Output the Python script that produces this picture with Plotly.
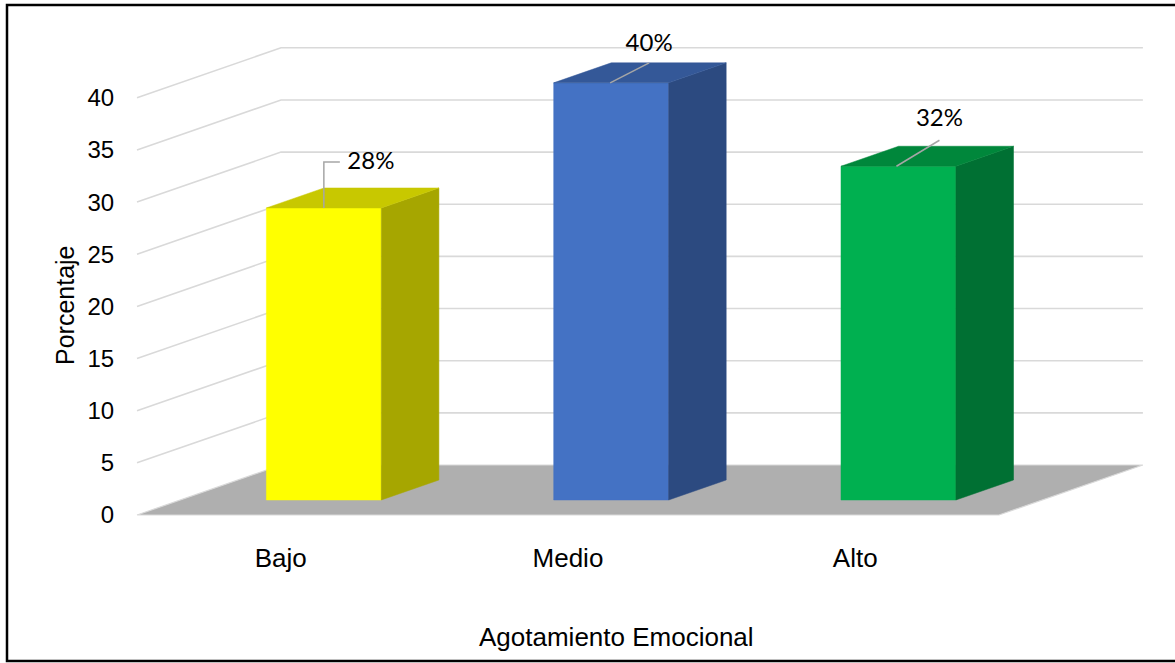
import plotly.graph_objects as go

# ---------------- data ----------------
categories = ["Bajo", "Medio", "Alto"]
values = [28, 40, 32]
label_texts = ["28%", "40%", "32%"]
y_ticks = [0, 5, 10, 15, 20, 25, 30, 35, 40]
x_title = "Agotamiento Emocional"
y_title = "Porcentaje"

front_colors = ["#FFFF00", "#4472C4", "#00B050"]
side_colors = ["#A6A600", "#2C4A80", "#007033"]
top_colors = ["#C8C800", "#345898", "#00873B"]

# ---------------- geometry (pixel layout of the pseudo-3D box) ----------------
W, H = 1175, 663
PLOT_L, PLOT_R, PLOT_T, PLOT_B = 122, 1160, 20, 530
X0_PX = 137          # front-left corner of floor
Y0_PX = 515          # front floor line
PX_PER_CAT = 287.3
PX_PER_VAL = 10.43
DEPTH_DX_PX = 144
DEPTH_DY_PX = 50
BAR_W = 0.4
D_FRONT, D_BACK = 0.3, 0.7

DX = DEPTH_DX_PX / PX_PER_CAT
DY = DEPTH_DY_PX / PX_PER_VAL
n = len(categories)

x_range = [(PLOT_L - X0_PX) / PX_PER_CAT, (PLOT_R - X0_PX) / PX_PER_CAT]
y_range = [(Y0_PX - PLOT_B) / PX_PER_VAL, (Y0_PX - PLOT_T) / PX_PER_VAL]


def proj(x, v, d):
    return x + d * DX, v + d * DY


def poly(points):
    xs = [p[0] for p in points] + [points[0][0]]
    ys = [p[1] for p in points] + [points[0][1]]
    return xs, ys


def px_to_paper(px, py):
    return (px - PLOT_L) / (PLOT_R - PLOT_L), (PLOT_B - py) / (PLOT_B - PLOT_T)


fig = go.Figure()

# gridlines: side wall diagonal + back wall horizontal
gx, gy = [], []
for v in y_ticks[1:]:
    for p in (proj(0, v, 0), proj(0, v, 1), proj(n, v, 1)):
        gx.append(p[0]); gy.append(p[1])
    gx.append(None); gy.append(None)
fig.add_trace(go.Scatter(x=gx, y=gy, mode="lines",
                         line=dict(color="#D9D9D9", width=1.6),
                         hoverinfo="skip", showlegend=False))

# floor
fx, fy = poly([proj(0, 0, 0), proj(n, 0, 0), proj(n, 0, 1), proj(0, 0, 1)])
fig.add_trace(go.Scatter(x=fx, y=fy, mode="lines", fill="toself",
                         fillcolor="#AFAFAF", line=dict(color="#D9D9D9", width=1.2),
                         hoverinfo="skip", showlegend=False))

# bars
for i, (cat, v) in enumerate(zip(categories, values)):
    xl = i + 0.5 - BAR_W / 2
    xr = i + 0.5 + BAR_W / 2
    faces = [
        ([proj(xl, 0, D_FRONT), proj(xr, 0, D_FRONT), proj(xr, v, D_FRONT), proj(xl, v, D_FRONT)], front_colors[i]),
        ([proj(xr, 0, D_FRONT), proj(xr, 0, D_BACK), proj(xr, v, D_BACK), proj(xr, v, D_FRONT)], side_colors[i]),
        ([proj(xl, v, D_FRONT), proj(xr, v, D_FRONT), proj(xr, v, D_BACK), proj(xl, v, D_BACK)], top_colors[i]),
    ]
    for pts, col in faces:
        px_, py_ = poly(pts)
        fig.add_trace(go.Scatter(x=px_, y=py_, mode="lines", fill="toself",
                                 fillcolor=col, line=dict(color=col, width=0.5),
                                 name=cat, hoverinfo="skip", showlegend=False))

# data labels with leader lines (offsets in pixels relative to bar top-front centre)
leader_offsets = [[(0, 0), (0, -46), (16, -46)], [(-1, 0), (38, -20)], [(-2, 0), (41, -26)]]
label_offsets = [(47, -45), (38, -38), (41, -46)]

lx, ly, tx, ty = [], [], [], []
for i, v in enumerate(values):
    cx, cy = proj(i + 0.5, v, D_FRONT)
    for ox, oy in leader_offsets[i]:
        lx.append(cx + ox / PX_PER_CAT); ly.append(cy - oy / PX_PER_VAL)
    lx.append(None); ly.append(None)
    ox, oy = label_offsets[i]
    tx.append(cx + ox / PX_PER_CAT); ty.append(cy - oy / PX_PER_VAL)

fig.add_trace(go.Scatter(x=lx, y=ly, mode="lines", line=dict(color="#A6A6A6", width=1.5),
                         hoverinfo="skip", showlegend=False))
fig.add_trace(go.Scatter(x=tx, y=ty, mode="text", text=label_texts,
                         textposition="middle center",
                         textfont=dict(family="Lato, Carlito, sans-serif", size=24, color="#000000"),
                         hoverinfo="skip", showlegend=False, cliponaxis=False))

FONT = "Liberation Sans Narrow, Arial Narrow, Liberation Sans, Arial, sans-serif"

xt_x, xt_y = px_to_paper(616, 637)
yt_x, yt_y = px_to_paper(65, 305)

fig.update_layout(
    width=W, height=H,
    margin=dict(l=PLOT_L, r=W - PLOT_R, t=PLOT_T, b=H - PLOT_B, autoexpand=False),
    paper_bgcolor="white", plot_bgcolor="white",
    showlegend=False,
    xaxis=dict(range=x_range, showgrid=False, zeroline=False, showline=False,
               tickmode="array", tickvals=[i + 0.5 for i in range(n)], ticktext=categories,
               ticks="outside", ticklen=5, tickcolor="rgba(0,0,0,0)",
               tickfont=dict(family=FONT, size=26, color="#000000"),
               fixedrange=True),
    yaxis=dict(range=y_range, showgrid=False, zeroline=False, showline=False,
               tickmode="array", tickvals=y_ticks, ticktext=[str(t) for t in y_ticks],
               ticks="outside", ticklen=2, tickcolor="rgba(0,0,0,0)",
               tickfont=dict(family=FONT, size=24, color="#000000"),
               fixedrange=True),
    annotations=[
        dict(text=x_title, xref="paper", yref="paper", x=xt_x, y=xt_y,
             xanchor="center", yanchor="middle", showarrow=False,
             font=dict(family=FONT, size=26, color="#000000")),
        dict(text=y_title, xref="paper", yref="paper", x=yt_x, y=yt_y, textangle=-90,
             xanchor="center", yanchor="middle", showarrow=False,
             font=dict(family=FONT, size=25, color="#000000")),
    ],
    shapes=[dict(type="rect", xref="paper", yref="paper",
                 x0=px_to_paper(7, 0)[0], x1=px_to_paper(1185, 0)[0],
                 y0=px_to_paper(0, 661)[1], y1=px_to_paper(0, 5)[1],
                 line=dict(color="#000000", width=2.5), fillcolor="rgba(0,0,0,0)", layer="above")],
)

fig.write_html("out.html")
